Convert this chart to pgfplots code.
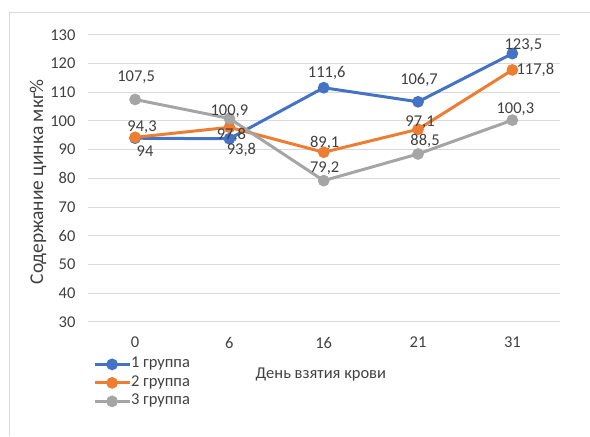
\documentclass[border=0pt]{standalone}
\usepackage{fontspec}
\setmainfont{Carlito}
\usepackage{pgfplots}
\usepackage{pgfplotstable}
\pgfplotsset{compat=1.18}

\definecolor{gA}{HTML}{4472C4}
\definecolor{gB}{HTML}{ED7D31}
\definecolor{gC}{HTML}{A5A5A5}
\definecolor{gridgray}{HTML}{D9D9D9}
\definecolor{txt}{HTML}{404040}
\newcommand\lblfont{\fontsize{16.5bp}{19bp}\selectfont}
\newcommand\ytitlefont{\fontsize{19.5bp}{22bp}\selectfont}

% x = category index (0, 6, 16, 21, 31 days), y = zinc content,
% dx/dy = offset of the value label from its marker (bp)
\pgfplotstableread{
x y dx dy
0 94 10 -13
1 93.8 12 -11
2 111.6 3 15
3 106.7 1 22
4 123.5 11 8
}\groupA
\pgfplotstableread{
x y dx dy
0 94.3 7 10
1 97.8 2 -8
2 89.1 1 9
3 97.1 2 7
4 117.8 23 0
}\groupB
\pgfplotstableread{
x y dx dy
0 107.5 1 22
1 100.9 0 7
2 79.2 1 12
3 88.5 7 13
4 100.3 3 11
}\groupC

\begin{document}
\begin{tikzpicture}
\path (0bp,0bp) rectangle (590bp,436bp);
\draw[gridgray, line width=1bp] (9.5bp,0bp) -- (9.5bp,423.5bp) -- (590bp,423.5bp);
\begin{axis}[
  at={(88bp,114bp)}, anchor=south west,
  scale only axis, width=472bp, height=287bp,
  xmin=-0.5, xmax=4.5, ymin=30, ymax=130,
  xtick={0,...,4}, xticklabels={0,6,16,21,31},
  ytick={30,40,...,130},
  ymajorgrids, grid style={gridgray, line width=1bp},
  axis line style={draw=none},
  major tick length=0pt,
  tick label style={font=\lblfont, text=txt},
  xticklabel style={yshift=-12bp},
  yticklabel style={xshift=-9bp},
  /pgf/number format/.cd, assume math mode=true, use comma, fixed, precision=1,
  /pgfplots/.cd,
  xlabel={День взятия крови},
  ylabel={Содержание цинка мкг\%},
  label style={text=txt},
  xlabel style={font=\lblfont, at={(axis description cs:0.494,0)}, anchor=center, yshift=-53bp},
  ylabel style={font=\ytitlefont, at={(axis description cs:0,0.488)}, anchor=center, yshift=50bp},
  legend style={at={(axis description cs:0.0106,0)}, anchor=north west,
    yshift=-36bp, draw=none, fill=none, inner sep=0pt, row sep=5.5bp,
    font=\lblfont, text=txt,
    nodes={inner sep=0pt, text height=10bp, text depth=3bp}},
  legend cell align=left,
  legend image code/.code={
    \draw[mark repeat=2, mark phase=2, #1]
      plot coordinates {(0bp,0bp) (17.5bp,0bp) (35bp,0bp)};},
  every axis plot/.append style={line width=3bp, mark=*, mark size=4.3bp,
    mark options={solid}},
  nodes near coords={\pgfmathprintnumber{\pgfplotspointmeta}},
  every node near coord/.append style={font=\lblfont, text=txt, anchor=center,
    inner sep=0pt, xshift=\dx bp, yshift=\dy bp},
  visualization depends on={\thisrow{dx} \as \dx},
  visualization depends on={\thisrow{dy} \as \dy},
]
\addplot[color=gA] table[x=x, y=y] {\groupA};
\addlegendentry{1 группа}
\addplot[color=gB] table[x=x, y=y] {\groupB};
\addlegendentry{2 группа}
\addplot[color=gC] table[x=x, y=y] {\groupC};
\addlegendentry{3 группа}
\end{axis}
\end{tikzpicture}
\end{document}
